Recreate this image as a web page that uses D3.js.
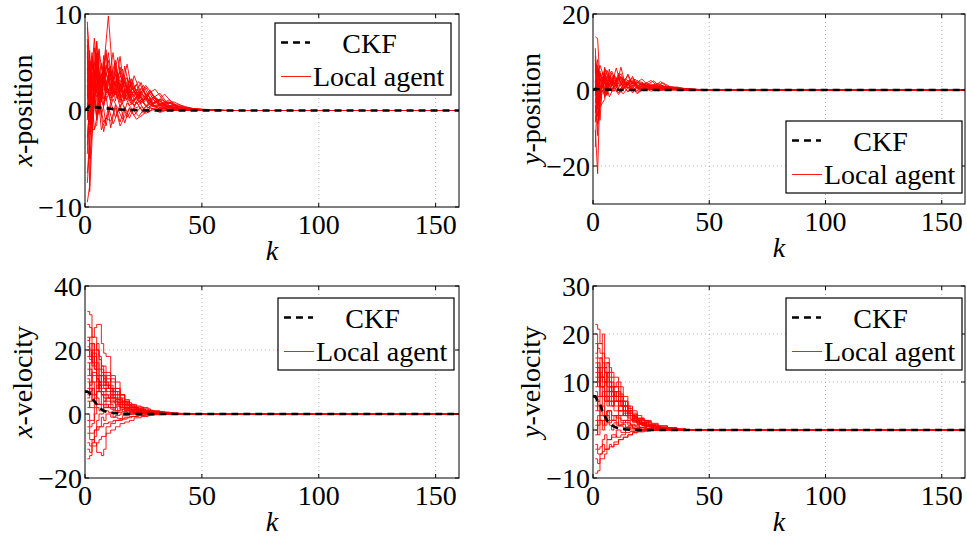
<!DOCTYPE html>
<html><head><meta charset="utf-8">
<script src="https://cdn.jsdelivr.net/npm/d3@7/dist/d3.min.js"></script>
<style>body{margin:0;background:#fff}svg{display:block}
svg text{font-family:"Liberation Serif","Times New Roman","DejaVu Serif",serif;}</style>
</head><body>
<svg id="c" width="967" height="537"></svg>
<script>
// ---- data ----
// sample times (k) used by the agents (three update schedules)
const kGridA = [1,2,3,4,5,6,8,10,12,14,16,18,20,23,26,30,34,38,43,50,60,160];
const kGridB = [1,2,3,5,6,7,9,11,13,15,17,19,22,25,28,32,36,40,46,53,62,160];
const kGridC = [1,2,4,5,7,8,9,11,13,15,17,19,21,24,27,29,33,37,41,48,57,160];
const kGrids = [kGridA, kGridB, kGridC];
const ckfK = [0,1,2,3,4,6,8,10,14,20,30,160];

const xPosAgents = [
 [9.2,4.1,6.0,3.5,5.8,2.9,4.4,9.8,3.2,5.5,2.6,4.8,2.1,3.0,1.6,2.2,0.9,0.6,0.3,0.1,0,0],
 [-9.5,-7.8,0.5,2.1,1.0,3.3,1.8,2.4,4.9,1.5,3.1,1.2,2.7,0.8,1.9,0.6,1.1,0.4,0.2,0.1,0,0],
 [6.1,-8.4,2.2,5.5,1.4,4.2,6.3,2.0,3.8,1.1,4.6,2.3,1.5,2.9,0.7,1.4,0.5,0.8,0.2,0.05,0,0],
 [1.5,6.2,-1.2,3.1,7.0,2.5,3.6,5.2,1.7,3.4,2.0,1.1,3.3,1.2,2.4,0.9,0.3,0.5,0.1,0.05,0,0],
 [0.8,-2.5,4.0,-1.0,2.2,-0.5,1.5,-1.8,0.6,-1.2,0.4,-0.8,0.9,-0.3,0.5,0.2,0.1,0.2,0.05,0,0,0],
 [3.2,1.0,7.5,4.3,2.8,5.7,2.0,4.1,2.5,5.6,1.8,3.0,1.0,2.3,1.2,0.5,0.7,0.2,0.1,0,0,0],
 [-4.5,2.4,1.2,6.5,3.0,1.6,5.0,2.8,6.0,2.2,1.4,2.6,1.8,0.9,1.5,0.4,0.6,0.3,0.1,0.05,0,0],
 [2.0,0.3,-2.2,-1.5,0.6,-2.0,-0.8,-1.1,0.3,-1.6,-0.6,0.2,-0.9,-0.4,0.3,-0.2,0.1,0,0,0,0,0],
 [5.0,3.3,2.0,4.8,1.2,3.5,2.3,1.0,2.9,4.0,2.1,1.5,3.6,1.8,1.0,1.6,0.8,0.3,0.2,0.05,0,0],
 [-1.0,4.5,3.0,0.8,4.2,1.5,0.5,3.7,1.4,2.5,0.7,2.2,0.6,1.6,0.4,0.9,0.2,0.4,0.1,0,0,0],
 [7.4,2.5,5.2,1.8,3.9,2.1,5.8,1.7,4.4,1.9,3.0,1.0,2.0,1.3,0.6,1.0,0.4,0.2,0.1,0,0,0],
 [-6.5,-3.0,1.8,-0.5,1.3,0.2,-1.6,0.9,-0.7,0.6,-1.3,0.3,-0.5,0.4,-0.2,0.2,0,0.1,0,0,0,0],
 [3.8,5.1,0.6,2.7,4.6,3.6,1.2,2.0,3.4,1.3,2.7,3.4,1.1,0.6,1.3,0.7,1.7,0.6,0.2,0.05,0,0],
 [0.2,1.8,3.4,1.1,-0.4,2.6,3.2,0.9,2.0,0.4,1.6,0.5,1.4,0.2,0.8,0.1,0.3,0.1,0,0,0,0],
 [4.4,-0.8,2.6,6.0,2.4,0.6,2.7,4.6,1.0,2.8,1.2,2.0,0.4,1.9,0.9,1.2,0.3,0.2,0.1,0,0,0],
 [-2.8,0.6,-1.5,1.6,-0.6,1.0,-1.2,-0.3,1.2,0.2,-0.9,0.8,0.2,-0.6,0.4,0.1,0.2,0,0,0,0,0],
 [1.2,3.0,5.6,2.0,6.4,1.9,3.9,2.5,1.8,3.6,2.8,1.4,2.2,1.4,2.1,0.3,0.5,0.2,0.1,0,0,0],
 [2.6,-5.0,0.4,3.8,0.9,4.6,2.6,1.3,2.2,0.8,1.9,0.9,0.6,1.0,0.3,0.6,0.2,0.1,0,0,0,0],
 [5.6,2.0,3.1,5.0,3.6,6.2,3.0,4.4,2.6,3.7,4.3,2.0,2.9,1.5,2.6,1.3,0.7,0.9,0.3,0.1,0,0],
 [-7.5,-3.5,2.8,0.2,3.5,0.9,2.8,1.5,3.8,2.6,1.0,3.4,1.4,2.2,0.6,1.1,0.8,0.2,0.1,0,0,0],
 [8.6,5.2,3.9,2.4,4.9,3.1,1.9,3.3,5.2,2.1,3.5,1.8,2.5,0.9,1.6,0.8,1.2,0.3,0.2,0.05,0,0],
 [0.5,-1.2,1.5,-2.0,-0.8,1.2,-2.2,0.4,-1.4,-0.2,0.8,-0.7,0.1,0.4,-0.3,0.2,0,0,0,0,0,0],
 [3.0,4.6,2.2,7.2,3.3,2.0,4.7,3.1,1.6,4.5,2.4,3.1,1.6,2.6,1.1,1.8,0.5,0.6,0.2,0.05,0,0],
 [-3.6,1.0,3.6,2.4,1.6,3.9,1.0,2.4,3.0,1.0,2.3,1.3,2.0,0.7,1.7,0.4,0.6,0.3,0.1,0,0,0],
 [1.8,2.6,-0.6,4.0,5.2,1.3,2.2,6.0,2.0,1.8,3.3,2.5,0.9,1.7,0.5,1.3,0.4,0.2,0.1,0,0,0],
 [6.8,-1.5,4.8,1.4,2.5,3.8,2.4,1.6,2.4,3.2,1.5,2.7,1.7,1.1,1.9,0.7,0.9,0.3,0.1,0,0,0]
];
const yPosAgents = [
 [14.0,13.5,2.0,4.5,1.5,3.2,5.0,2.1,3.6,1.4,2.5,1.8,1.0,1.6,0.7,1.9,0.6,0.4,0.2,0.1,0,0],
 [-10.5,-22.0,1.0,2.8,-1.2,1.6,3.4,0.5,2.2,3.8,1.0,2.6,0.8,1.2,1.7,0.5,0.8,0.3,0.1,0,0,0],
 [7.0,-5.0,3.5,-2.0,5.5,2.0,1.2,4.4,1.5,2.0,3.2,0.9,2.1,0.6,1.3,2.2,0.4,0.2,0.1,0,0,0],
 [-3.5,5.5,-8.0,1.5,3.0,0.5,2.6,1.0,6.0,1.2,2.4,1.5,0.4,1.9,0.8,0.6,0.9,0.3,0.1,0,0,0],
 [2.5,-12.0,4.5,0.8,-1.5,3.8,1.0,-0.8,1.4,-0.5,0.6,-1.0,0.5,-0.3,0.4,0.1,0.2,0,0,0,0,0],
 [0.5,3.0,1.0,6.0,2.4,4.5,1.8,3.2,1.1,4.2,1.6,2.0,2.9,1.0,0.8,1.2,0.5,0.6,0.2,0.05,0,0],
 [-6.0,1.5,-3.0,2.2,0.4,-1.0,2.4,1.4,-0.6,1.0,0.2,1.4,-0.2,0.7,0.3,0.2,0.3,0.1,0,0,0,0],
 [4.5,8.0,-1.5,3.5,1.2,2.6,0.6,3.7,2.5,1.2,3.6,1.1,1.6,2.5,0.9,1.0,0.3,0.4,0.1,0,0,0],
 [1.0,-2.5,2.0,-1.0,3.5,1.0,-0.4,1.8,0.2,2.0,-0.8,0.9,0.3,0.2,0.6,0.3,0.1,0.1,0,0,0,0],
 [-8.5,3.5,5.0,1.0,2.0,5.2,2.0,2.6,4.3,1.6,1.2,2.9,1.5,1.3,2.4,0.4,0.6,0.2,0.1,0,0,0],
 [3.0,0.5,-4.5,-2.5,0.8,-1.8,0.6,-1.2,0.8,-0.4,0.4,-0.6,0.2,0.4,-0.2,0.1,0,0,0,0,0,0],
 [5.5,-7.0,1.5,4.0,2.8,1.2,3.8,1.6,2.8,0.6,2.0,0.6,1.2,0.8,0.4,0.7,0.2,0.1,0,0,0,0],
 [-1.5,6.5,0.5,2.6,4.6,2.2,1.4,5.8,1.6,3.0,1.5,2.2,1.0,0.5,1.1,0.3,0.4,0.2,0.1,0,0,0],
 [9.0,1.0,2.8,-0.6,1.8,0.2,2.0,-0.2,1.0,0.5,1.3,0.3,0.7,0.2,0.5,0.2,0.1,0,0,0,0,0],
 [11.0,-4.0,2.2,5.5,3.0,1.0,4.0,2.4,1.0,2.6,2.0,0.7,1.8,1.1,0.5,1.4,0.3,0.2,0.1,0,0,0],
 [-15.0,2.0,-2.0,1.2,4.0,2.8,0.2,1.2,3.0,0.8,1.8,1.6,0.2,1.0,0.6,0.3,0.5,0.1,0,0,0,0],
 [6.0,4.0,6.5,3.0,0.6,3.6,2.8,1.0,2.0,1.8,0.4,2.0,1.2,0.4,1.0,0.6,0.2,0.2,0.1,0,0,0],
 [-4.0,-9.0,0.0,-1.5,1.6,-0.4,1.2,0.2,-1.0,0.6,0.8,-0.2,0.4,0.1,0.2,0,0,0,0,0,0,0],
 [2.0,5.0,3.0,1.8,5.0,1.4,3.0,2.0,3.4,2.4,0.8,1.4,2.3,0.8,1.4,0.5,0.7,0.2,0.1,0,0,0],
 [8.0,-1.0,4.0,2.0,-0.5,2.4,1.6,3.0,0.6,1.4,2.6,0.5,1.0,1.6,0.3,0.9,0.2,0.1,0,0,0,0]
];
const xVelAgents = [
 [32,31,18,15,20,14,9,8,5,4.5,3,3.5,2,1.5,1,0.8,0.4,0.2,0.1,0,0,0],
 [-14,-13,-10,-9,-8,-7,-4,-3,-2,-1.5,-1,-0.8,-0.5,-0.3,-0.2,-0.1,0,0,0,0,0,0],
 [23,24,27,28,22,19,18,12,10,6,4,3,2.5,2,1.2,0.8,0.4,0.2,0.1,0,0,0],
 [-9,-10,-8,-5,-2,0,1,0.5,-1,-1.5,-0.5,0,0.2,0,0.1,0,0,0,0,0,0,0],
 [16,12,20,22,17,13,11,8,7,5,3.5,2.2,1.8,1.2,0.8,0.5,0.2,0.1,0,0,0,0],
 [8,10,6,9,12,10,7,6,4,3,2.5,1.5,1,0.8,0.6,0.3,0.1,0.05,0,0,0,0],
 [2,4,8,6,5,3,2,3,2,1,1.5,1,0.6,0.4,0.2,0.1,0.05,0,0,0,0,0],
 [12,14,10,11,8,12,10,11,6,4,2.8,2,1.5,0.6,0.4,0.2,0.1,0,0,0,0,0],
 [-6,-8,-9,-12,-13,-11,-6,-5,-4,-3,-2.5,-2,-1.2,-0.8,-0.4,-0.2,-0.1,0,0,0,0,0],
 [20,18,15,16,14,10,8,9,5,3.5,3,2,1.4,1,0.5,0.3,0.2,0.05,0,0,0,0],
 [5,7,12,10,9,8,6,4,3,2,2,1.2,0.8,0.5,0.3,0.2,0.1,0,0,0,0,0],
 [10,6,4,3,6,5,4,2,1,2,1,0.8,0.4,0.3,0.1,0.05,0,0,0,0,0,0],
 [-2,-4,-3,0,2,1,3,2,1,0.5,0.8,0.3,0.2,0.1,0,0,0,0,0,0,0,0],
 [14,16,19,12,10,9,12,7,8,6,4,2.5,1.5,1,0.6,0.4,0.2,0.1,0,0,0,0],
 [4,2,5,7,6,4,5,3.5,2.5,2,1.6,1,0.7,0.5,0.3,0.1,0,0,0,0,0,0],
 [24,20,16,18,11,7,6,5,4,3,2,1.5,1.2,0.7,0.4,0.2,0.1,0,0,0,0,0],
 [28,27,24,20,18,15,13,10,8,6,4.5,3,2.2,1.6,1,0.6,0.3,0.1,0,0,0,0],
 [18,22,14,12,15,11,9,7,6,4,3,2.5,1.6,1,0.7,0.4,0.2,0.1,0,0,0,0],
 [-11,-12,-9,-7,-5,-4,-3,-2.5,-2,-2,-1.6,-1.2,-0.8,-0.5,-0.3,-0.1,0,0,0,0,0,0],
 [6,8,4,7,10,7,8,5,4.5,3.5,2,1.6,1,0.7,0.5,0.2,0.1,0,0,0,0,0],
 [0,-2,2,3,1,4,2,1.5,2.5,1.5,1,0.5,0.3,0.2,0.1,0,0,0,0,0,0,0],
 [21,17,22,14,16,12,10,8,7,5,3.8,2.8,2,1.4,0.9,0.5,0.2,0.1,0,0,0,0],
 [11,9,13,8,9,6,5,6,3.5,2.5,1.8,1.4,1,0.6,0.3,0.2,0.1,0,0,0,0,0],
 [-4,-6,-5,-4,-1,-2,0,-1,-0.5,0,-0.4,-0.2,0,0,0,0,0,0,0,0,0,0]
];
const yVelAgents = [
 [22,21,18,14,12,10,8,6,5,4,3,2,1.5,1,0.6,0.4,0.2,0.1,0,0,0,0],
 [-9,-8.5,-6,-5,-4,-3.5,-3,-2,-1.5,-1,-0.6,-0.4,-0.2,-0.1,0,0,0,0,0,0,0,0],
 [16,18,20,15,13,12,11,9,7,5,4,3,2,1.2,0.8,0.5,0.3,0.1,0.05,0,0,0],
 [-3,-4,-3.5,-2,-1,-2,-1.5,0,-0.5,0.5,0,0.3,0.1,0,0,0,0,0,0,0,0,0],
 [10,12,9,13,11,8,9,7,5,4,3.5,2.5,2,1.4,0.9,0.5,0.2,0.1,0,0,0,0],
 [5,7,8,6,9,7,5,4,6,3,2.5,1.6,1,0.7,0.4,0.2,0.1,0,0,0,0,0],
 [2,1,4,5,3,4,2,3,2,1.5,1,0.8,0.5,0.3,0.2,0.1,0,0,0,0,0,0],
 [13,9,11,10,7,6,8,5,4,3,2,1.5,1,0.6,0.4,0.2,0.1,0,0,0,0,0],
 [-4,-5,-4.5,-4,-3,-3.5,-2.5,-2,-1.5,-1,-0.5,-0.3,-0.2,-0.1,0,0,0,0,0,0,0,0],
 [8,6,12,11,10,12,9,10,6,5,3,2,1.4,1,0.5,0.3,0.1,0.05,0,0,0,0],
 [0,3,2,1,4,2,3,1,2,1,0.6,0.5,0.3,0.2,0.1,0,0,0,0,0,0,0],
 [18,15,13,12,9,8,7,6,4,3.5,2.5,2,1.6,1,0.6,0.4,0.2,0.1,0,0,0,0],
 [6,4,5,3,2,4,3,2.5,1.5,2,1.2,1,0.6,0.4,0.2,0.1,0,0,0,0,0,0],
 [11,13,7,8,6,5,6,4,3,2.5,1.8,1.2,0.8,0.6,0.3,0.2,0.1,0,0,0,0,0],
 [-1,2,0,3,1,0,1.5,0.8,0.5,0.8,0.3,0.2,0.1,0,0,0,0,0,0,0,0,0],
 [14,10,15,9,12,9,7,8,5,3,2.2,1.8,1.2,0.8,0.5,0.3,0.1,0,0,0,0,0],
 [20,17,16,13,14,11,9,7,6,4.5,3.2,2.4,1.8,1.2,0.8,0.5,0.2,0.1,0,0,0,0],
 [9,11,10,7,8,10,6,5,4,3.5,2.4,1.8,1.2,0.8,0.5,0.3,0.1,0,0,0,0,0],
 [-6,-7,-5,-3,-4,-2,-1,-1.5,-1,-0.5,-0.3,-0.2,-0.1,0,0,0,0,0,0,0,0,0],
 [4,6,3,7,5,6,4,3,3.5,2,1.6,1.2,0.8,0.5,0.3,0.1,0,0,0,0,0,0],
 [15,13,11,14,10,7,8,6,5,4,2.8,2,1.4,0.9,0.6,0.4,0.2,0.1,0,0,0,0],
 [1,-1,2,1,2.5,1.5,2,1,1.2,0.6,0.4,0.3,0.2,0.1,0,0,0,0,0,0,0,0],
 [12,14,9,10,8,9,7,7.5,5,4,3,2.2,1.6,1,0.6,0.4,0.2,0.1,0,0,0,0],
 [7,5,9,6,7,5,6,4,3,3,2,1.4,0.9,0.6,0.3,0.2,0.1,0,0,0,0,0]
];
const ckfXPos = [0,0.2,0.5,0.4,0.35,0.3,0.25,0.2,0.1,0.05,0,0];
const ckfYPos = [0,0.3,0.2,0.2,0.15,0.1,0.05,0.05,0,0,0,0];
const ckfXVel = [7,7,6.5,5,4,2,1,0.5,0.2,0,0,0];
const ckfYVel = [7,7,6,5.5,4,2,1,0.5,0.1,0,0,0];

const xTicks = [0,50,100,150];
const panels = [
 {name:"x", label:"-position", agents:xPosAgents, ckf:ckfXPos, yDomain:[-10,10], yTicks:[-10,0,10], step:false,
  box:[85,459,14,207], legend:[275,23]},
 {name:"y", label:"-position", agents:yPosAgents, ckf:ckfYPos, yDomain:[-30,20], yTicks:[-20,0,20], step:false,
  box:[593,965,14,204], legend:[786,121]},
 {name:"x", label:"-velocity", agents:xVelAgents, ckf:ckfXVel, yDomain:[-20,40], yTicks:[-20,0,20,40], step:true,
  box:[85,459,286,478], legend:[278,298]},
 {name:"y", label:"-velocity", agents:yVelAgents, ckf:ckfYVel, yDomain:[-10,30], yTicks:[-10,0,10,20,30], step:true,
  box:[593,965,286,478], legend:[786,298]}
];

// ---- drawing ----
const svg = d3.select("#c");
const FONT = '"Liberation Serif","Times New Roman","DejaVu Serif",serif';
const fmt = v => v < 0 ? "\u2212" + Math.abs(v) : String(v);

panels.forEach((p, pi) => {
  const [L, R, T, B] = p.box;
  const x = d3.scaleLinear().domain([0,160]).range([L, R]);
  const y = d3.scaleLinear().domain(p.yDomain).range([B, T]);
  const g = svg.append("g");
  const clipId = "clip" + pi;
  svg.append("clipPath").attr("id", clipId).append("rect")
    .attr("x", L).attr("y", T).attr("width", R - L).attr("height", B - T);

  // grid
  const grid = g.append("g").attr("stroke", "#b4b4b4").attr("stroke-width", 1)
    .attr("stroke-dasharray", "1,3");
  xTicks.filter(t => t > 0).forEach(t => grid.append("line")
    .attr("x1", x(t)).attr("x2", x(t)).attr("y1", T).attr("y2", B));
  p.yTicks.filter(t => t > p.yDomain[0] && t < p.yDomain[1]).forEach(t => grid.append("line")
    .attr("x1", L).attr("x2", R).attr("y1", y(t)).attr("y2", y(t)));

  const line = d3.line().x(d => x(d[0])).y(d => y(d[1]));
  if (p.step) line.curve(d3.curveStepAfter);
  const lg = g.append("g").attr("clip-path", `url(#${clipId})`);
  p.agents.forEach((a, ai) => {
    const kg = kGrids[ai % 3];
    lg.append("path").datum(a.map((v, i) => [kg[i], v]))
      .attr("d", line).attr("fill", "none").attr("stroke", "#ff0000").attr("stroke-width", 0.9);
  });
  const ckfLine = d3.line().x(d => x(d[0])).y(d => y(d[1]));
  lg.append("path").datum(p.ckf.map((v, i) => [ckfK[i], v]))
    .attr("d", ckfLine).attr("fill", "none").attr("stroke", "#000").attr("stroke-width", 2.6)
    .attr("stroke-dasharray", "7,5");

  // axes box and ticks
  const ax = g.append("g").attr("stroke", "#000").attr("stroke-width", 1);
  ax.append("rect").attr("x", L).attr("y", T).attr("width", R - L).attr("height", B - T)
    .attr("fill", "none");
  xTicks.forEach(t => {
    ax.append("line").attr("x1", x(t)).attr("x2", x(t)).attr("y1", B).attr("y2", B - 4);
    ax.append("line").attr("x1", x(t)).attr("x2", x(t)).attr("y1", T).attr("y2", T + 4);
  });
  p.yTicks.forEach(t => {
    ax.append("line").attr("x1", L).attr("x2", L + 4).attr("y1", y(t)).attr("y2", y(t));
    ax.append("line").attr("x1", R).attr("x2", R - 4).attr("y1", y(t)).attr("y2", y(t));
  });

  const tl = g.append("g").style("font-family", FONT).attr("font-size", 28).attr("fill", "#000");
  xTicks.forEach(t => tl.append("text").attr("x", x(t)).attr("y", B + 27)
    .attr("text-anchor", "middle").text(fmt(t)));
  p.yTicks.forEach(t => tl.append("text").attr("x", L - 3).attr("y", y(t)).attr("dy", "0.35em")
    .attr("text-anchor", "end").text(fmt(t)));

  // axis labels
  const kl = tl.append("text").attr("x", (L + R) / 2).attr("y", B + 53).attr("text-anchor", "middle");
  kl.append("tspan").attr("font-style", "italic").text("k");
  const yl = tl.append("text").attr("transform", `translate(${L - 53},${(T + B) / 2}) rotate(-90)`)
    .attr("text-anchor", "middle");
  yl.append("tspan").attr("font-style", "italic").text(p.name);
  yl.append("tspan").text(p.label);

  // legend
  const [lx, ly] = p.legend;
  const leg = g.append("g");
  leg.append("rect").attr("x", lx).attr("y", ly).attr("width", 176).attr("height", 72)
    .attr("fill", "#fff").attr("stroke", "#000").attr("stroke-width", 1.2);
  leg.append("line").attr("x1", lx + 6).attr("x2", lx + 35).attr("y1", ly + 19.5).attr("y2", ly + 19.5)
    .attr("stroke", "#000").attr("stroke-width", 2.6).attr("stroke-dasharray", "7,5");
  leg.append("line").attr("x1", lx + 6).attr("x2", lx + 36).attr("y1", ly + 53.5).attr("y2", ly + 53.5)
    .attr("stroke", "#ff0000").attr("stroke-width", 0.9);
  leg.append("text").attr("x", lx + 94.5).attr("y", ly + 30).attr("text-anchor", "middle")
    .style("font-family", FONT).attr("font-size", 28).text("CKF");
  leg.append("text").attr("x", lx + 38).attr("y", ly + 63)
    .style("font-family", FONT).attr("font-size", 28).text("Local agent");
});
</script>
</body></html>
